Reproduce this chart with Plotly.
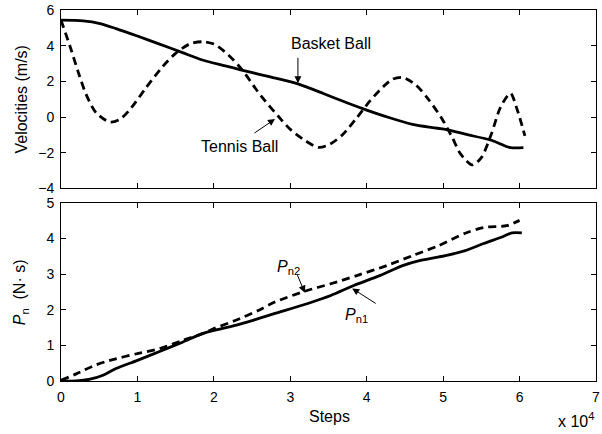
import plotly.graph_objects as go

# ---- data (x in steps) ----
bb_steps = [0, 2900, 5100, 7200, 10000, 12900, 15900, 18500, 21500, 23500, 25800, 27500,
            30900, 34400, 37400, 40000, 43000, 46000, 48600, 50300, 52900, 56300, 58800, 60500]
bb_vel = [5.43, 5.39, 5.24, 4.96, 4.54, 4.09, 3.61, 3.20, 2.87, 2.65, 2.41, 2.24,
          1.87, 1.31, 0.80, 0.39, -0.04, -0.41, -0.59, -0.69, -0.96, -1.30, -1.71, -1.71]

tb_steps = [0, 1200, 2300, 3300, 4600, 6400, 7700, 9200, 11100, 13300, 15000, 16800, 18500,
            20000, 21900, 23700, 25400, 26200, 28400, 30000, 32000, 33700, 35200, 36900,
            38700, 40400, 42200, 43400, 44700, 46400, 48100, 49900, 51200, 52300, 53800,
            55000, 56300, 57500, 58800, 59700, 60700]
tb_vel = [5.43, 3.94, 2.46, 1.26, 0.24, -0.28, -0.13, 0.52, 1.63, 2.83, 3.57, 4.09, 4.22,
          4.09, 3.48, 2.65, 1.63, 1.17, 0.06, -0.69, -1.33, -1.70, -1.52, -0.96,
          -0.04, 0.89, 1.72, 2.13, 2.22, 1.81, 0.98, -0.13, -1.15, -2.08, -2.68,
          -2.27, -0.96, 0.54, 1.33, 0.40, -1.05]

pn1_steps = [0, 2000, 3800, 5500, 7200, 10000, 12900, 15900, 18500, 20000, 22800, 25800,
             27900, 32200, 35300, 38300, 41700, 44700, 46900, 50300, 52900, 55300, 57800,
             59000, 60300]
pn1 = [0.0, 0.0, 0.05, 0.16, 0.35, 0.58, 0.83, 1.09, 1.33, 1.42, 1.56, 1.75,
       1.89, 2.17, 2.40, 2.68, 2.96, 3.24, 3.38, 3.52, 3.66, 3.86, 4.05,
       4.16, 4.16]

pn2_steps = [0, 2000, 4200, 6400, 10000, 12900, 15900, 18500, 20000, 22800, 25800, 27900,
             32200, 35300, 38700, 42600, 46000, 49400, 52900, 55300, 58300, 60000]
pn2 = [0.02, 0.20, 0.42, 0.58, 0.77, 0.91, 1.14, 1.33, 1.47, 1.70, 1.98, 2.21,
       2.54, 2.73, 2.96, 3.24, 3.52, 3.80, 4.15, 4.31, 4.36, 4.51]

x_tickvals = [0, 10000, 20000, 30000, 40000, 50000, 60000, 70000]
x_ticktext = ["0", "1", "2", "3", "4", "5", "6", "7"]

FONT = "Liberation Sans, Arial, Helvetica, sans-serif"
LW = 2.8
DASH = "8px,5px"

fig = go.Figure()
fig.add_trace(go.Scatter(x=bb_steps, y=bb_vel, mode="lines", xaxis="x", yaxis="y",
                         line=dict(color="black", width=LW, shape="spline", smoothing=0.8)))
fig.add_trace(go.Scatter(x=tb_steps, y=tb_vel, mode="lines", xaxis="x", yaxis="y",
                         line=dict(color="black", width=LW, dash=DASH, shape="spline", smoothing=0.8)))
fig.add_trace(go.Scatter(x=pn1_steps, y=pn1, mode="lines", xaxis="x2", yaxis="y2",
                         line=dict(color="black", width=LW, shape="spline", smoothing=0.8)))
fig.add_trace(go.Scatter(x=pn2_steps, y=pn2, mode="lines", xaxis="x2", yaxis="y2",
                         line=dict(color="black", width=LW, dash=DASH, shape="spline", smoothing=0.8)))

axis_common = dict(showline=True, linecolor="black", linewidth=1, mirror="allticks",
                   ticks="inside", ticklen=5, tickcolor="black", tickwidth=1,
                   showgrid=False, zeroline=False,
                   tickfont=dict(family=FONT, size=14, color="black"))

fig.update_layout(
    width=602, height=434,
    margin=dict(l=61, r=2, t=9, b=53),
    paper_bgcolor="white", plot_bgcolor="white",
    showlegend=False,
    font=dict(family=FONT, size=16, color="black"),
    xaxis=dict(domain=[0, 1], anchor="y", range=[0, 70000], tickvals=x_tickvals,
               showticklabels=False, **axis_common),
    yaxis=dict(domain=[0.519, 1], anchor="x", range=[-4, 6], tickvals=[-4, -2, 0, 2, 4, 6],
               ticklabelstandoff=3, **axis_common),
    xaxis2=dict(domain=[0, 1], anchor="y2", range=[0, 70000], tickvals=x_tickvals,
                ticktext=x_ticktext, ticklabelstandoff=3, ticklabeloverflow="allow",
                **axis_common),
    yaxis2=dict(domain=[0, 0.48], anchor="x2", range=[0, 5], tickvals=[0, 1, 2, 3, 4, 5],
                ticklabelstandoff=3, **axis_common),
)

ARW = dict(showarrow=True, arrowhead=2, arrowsize=1.4, arrowwidth=1, arrowcolor="black")

ann = []
# axis labels
ann.append(dict(text="Velocities (m/s)", xref="paper", yref="paper", x=-0.0742, y=0.7595,
                textangle=-90, showarrow=False, xanchor="center", yanchor="middle",
                font=dict(size=16)))
ann.append(dict(text="<i>P</i><sub>n</sub>  (N· s)", xref="paper", yref="paper", x=-0.0742, y=0.24,
                textangle=-90, showarrow=False, xanchor="center", yanchor="middle",
                font=dict(size=16)))
ann.append(dict(text="Steps", xref="paper", yref="paper", x=0.501, y=-0.095,
                showarrow=False, xanchor="center", yanchor="middle", font=dict(size=16)))
ann.append(dict(text="x 10<sup>4</sup>", xref="paper", yref="paper", x=1.0, y=-0.105,
                showarrow=False, xanchor="right", yanchor="middle", font=dict(size=16)))
# curve labels
ann.append(dict(text="Basket Ball", xref="x", yref="y", x=35300, y=4.12,
                showarrow=False, xanchor="center", yanchor="middle", font=dict(size=16)))
ann.append(dict(text="", xref="x", yref="y", x=31000, y=1.89, ax=0, ay=-27, **ARW))
ann.append(dict(text="Tennis Ball", xref="x", yref="y", x=23300, y=-1.67,
                showarrow=False, xanchor="center", yanchor="middle", font=dict(size=16)))
ann.append(dict(text="", xref="x", yref="y", x=28000, y=-0.11, ax=-22, ay=15, **ARW))
ann.append(dict(text="<i>P</i><sub>n2</sub>", xref="x2", yref="y2", x=29800, y=3.2,
                showarrow=False, xanchor="center", yanchor="middle", font=dict(size=16)))
ann.append(dict(text="", xref="x2", yref="y2", x=31900, y=2.48, ax=-8, ay=-19, **ARW))
ann.append(dict(text="<i>P</i><sub>n1</sub>", xref="x2", yref="y2", x=38700, y=1.85,
                showarrow=False, xanchor="center", yanchor="middle", font=dict(size=16)))
ann.append(dict(text="", xref="x2", yref="y2", x=38100, y=2.60, ax=25, ay=16, **ARW))
fig.update_layout(annotations=ann)

fig.write_html("out.html")
